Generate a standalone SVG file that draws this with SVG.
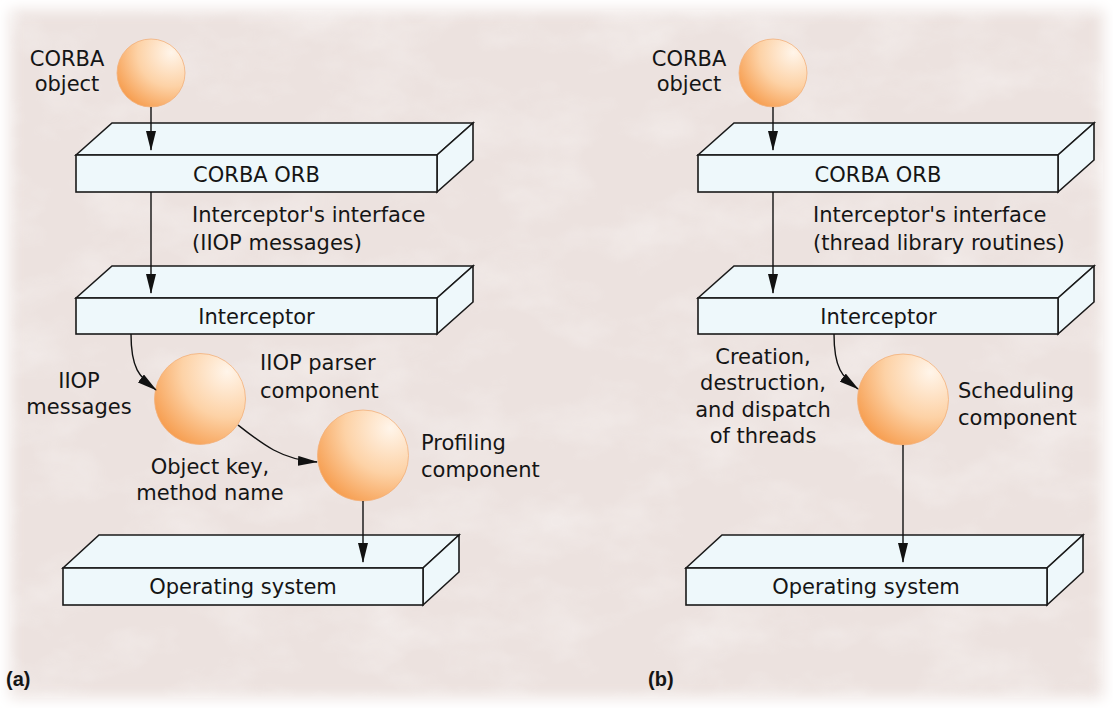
<svg xmlns="http://www.w3.org/2000/svg" width="1113" height="708" viewBox="0 0 1113 708">
<defs>
<radialGradient id="sph" cx="0.8" cy="0.2" r="1" fx="0.8" fy="0.2">
<stop offset="0" stop-color="#fff5ea"/>
<stop offset="0.5" stop-color="#fdd2a6"/>
<stop offset="1" stop-color="#f59440"/>
</radialGradient>
<filter id="edge" x="-5%" y="-5%" width="110%" height="110%"><feGaussianBlur stdDeviation="7"/></filter>
<filter id="tex" x="0" y="0" width="100%" height="100%">
<feTurbulence type="fractalNoise" baseFrequency="0.012 0.02" numOctaves="4" seed="7" result="n"/>
<feColorMatrix in="n" type="matrix" values="0 0 0 0 1  0 0 0 0 1  0 0 0 0 1  0 0 0 -2.2 1.25"/>
</filter>
<marker id="ah" markerUnits="userSpaceOnUse" markerWidth="20" markerHeight="10" refX="19" refY="5" orient="auto"><path d="M0,0 L20,5 L0,10 Z" fill="#111"/></marker>
<style>
.bx{fill:#eef8fb;stroke:#1a1a1a;stroke-width:1.6;stroke-linejoin:miter}
.sp{fill:url(#sph);stroke:#f2b07a;stroke-width:0.8}
.t{font-family:"DejaVu Sans","Open Sans",sans-serif;font-size:21px;fill:#151515}
.m{text-anchor:middle}
.cn{fill:none;stroke:#111;stroke-width:1.4;marker-end:url(#ah)}
.lb{font-family:"Liberation Sans",Arial,sans-serif;font-size:20px;font-weight:bold;fill:#151515}
</style>
</defs>
<rect width="1113" height="708" fill="#ffffff"/>
<rect x="10" y="10" width="1093" height="688" fill="#ece2df" filter="url(#edge)"/>
<rect x="10" y="10" width="1093" height="688" filter="url(#tex)" opacity="0.3"/>

<g id="a-corba-object">
<circle class="sp" cx="151" cy="73" r="34"/>
<text class="t m" x="67" y="66">CORBA</text>
<text class="t m" x="67" y="91">object</text>
</g>
<g id="a-corba-orb">
<path class="bx" d="M76,155 L112,123 L473,123 L437,155 Z"/>
<path class="bx" d="M437,155 L473,123 L473,160 L437,192 Z"/>
<rect class="bx" x="76" y="155" width="361" height="37"/>
<text class="t m" x="256.5" y="182">CORBA ORB</text>
</g>
<g id="a-interceptor">
<path class="bx" d="M76,298 L112,266 L473,266 L437,298 Z"/>
<path class="bx" d="M437,298 L473,266 L473,302 L437,334 Z"/>
<rect class="bx" x="76" y="298" width="361" height="36"/>
<text class="t m" x="256.5" y="324">Interceptor</text>
</g>
<g id="a-iiop-parser">
<circle class="sp" cx="200" cy="399" r="45.5"/>
<text class="t" x="260" y="370">IIOP parser</text>
<text class="t" x="260" y="398">component</text>
</g>
<g id="a-profiling">
<circle class="sp" cx="363" cy="455.5" r="45.5"/>
<text class="t" x="421" y="450">Profiling</text>
<text class="t" x="421" y="477">component</text>
</g>
<g id="a-os">
<path class="bx" d="M63,568 L99,535 L459,535 L423,568 Z"/>
<path class="bx" d="M423,568 L459,535 L459,572 L423,605 Z"/>
<rect class="bx" x="63" y="568" width="360" height="37"/>
<text class="t m" x="243" y="594">Operating system</text>
</g>

<g id="b-corba-object">
<circle class="sp" cx="773" cy="73" r="34"/>
<text class="t m" x="689" y="66">CORBA</text>
<text class="t m" x="689" y="91">object</text>
</g>
<g id="b-corba-orb">
<path class="bx" d="M698,155 L734,123 L1094,123 L1058,155 Z"/>
<path class="bx" d="M1058,155 L1094,123 L1094,160 L1058,192 Z"/>
<rect class="bx" x="698" y="155" width="360" height="37"/>
<text class="t m" x="878" y="182">CORBA ORB</text>
</g>
<g id="b-interceptor">
<path class="bx" d="M698,298 L734,266 L1094,266 L1058,298 Z"/>
<path class="bx" d="M1058,298 L1094,266 L1094,302 L1058,334 Z"/>
<rect class="bx" x="698" y="298" width="360" height="36"/>
<text class="t m" x="878.5" y="324">Interceptor</text>
</g>
<g id="b-scheduling">
<circle class="sp" cx="903" cy="399.5" r="45.5"/>
<text class="t" x="958" y="398">Scheduling</text>
<text class="t" x="958" y="425">component</text>
</g>
<g id="b-os">
<path class="bx" d="M686,568 L722,535 L1083,535 L1047,568 Z"/>
<path class="bx" d="M1047,568 L1083,535 L1083,572 L1047,605 Z"/>
<rect class="bx" x="686" y="568" width="361" height="37"/>
<text class="t m" x="866" y="594">Operating system</text>
</g>

<g id="connectors">
<line class="cn" x1="151" y1="107" x2="151" y2="150"/>
<line class="cn" x1="151" y1="192" x2="151" y2="293"/>
<path class="cn" d="M131,334 C131,368 139,377 156,390"/>
<path class="cn" d="M238,425 C262,444 282,460 317,462"/>
<line class="cn" x1="363" y1="501" x2="363" y2="562"/>
<line class="cn" x1="773" y1="107" x2="773" y2="150"/>
<line class="cn" x1="773" y1="192" x2="773" y2="293"/>
<path class="cn" d="M834,334 C834,368 842,377 858,389"/>
<line class="cn" x1="903" y1="445" x2="903" y2="562"/>
</g>

<g id="labels">
<text class="t" x="192" y="222">Interceptor's interface</text>
<text class="t" x="192" y="250">(IIOP messages)</text>
<text class="t m" x="79" y="388">IIOP</text>
<text class="t m" x="79" y="414">messages</text>
<text class="t m" x="210" y="474">Object key,</text>
<text class="t m" x="210" y="500">method name</text>
<text class="t" x="813" y="222">Interceptor's interface</text>
<text class="t" x="813" y="250">(thread library routines)</text>
<text class="t m" x="763" y="364">Creation,</text>
<text class="t m" x="763" y="390">destruction,</text>
<text class="t m" x="763" y="417">and dispatch</text>
<text class="t m" x="763" y="443">of threads</text>
<text class="lb" x="6" y="686">(a)</text>
<text class="lb" x="648" y="686">(b)</text>
</g>
</svg>
